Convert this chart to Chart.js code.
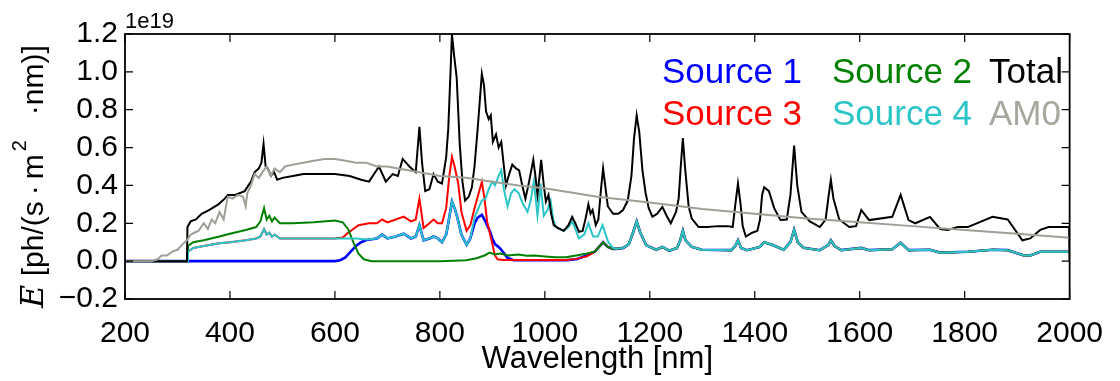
<!DOCTYPE html>
<html>
<head>
<meta charset="utf-8">
<script src="https://cdn.jsdelivr.net/npm/chart.js@4.4.0/dist/chart.umd.min.js"></script>
<style>
  body { margin: 0; background: #fff; }
  canvas { display: block; }
</style>
</head>
<body>
<canvas id="chart" width="1120" height="381"></canvas>
<script>
// values are in units of 1e19 ph/(s*m^2*nm)
const exponentLabel = '1e19';
const xTitle = 'Wavelength [nm]';

const amWl = [200, 250, 262, 270, 280, 290, 300, 310, 318, 325,
  332, 340, 350, 358, 365, 372, 380, 388, 393, 396,
  405, 415, 425, 430, 433, 440, 447, 455, 462, 470,
  478, 485, 495, 505, 520, 540, 560, 580, 600, 620,
  640, 660, 680, 700, 720, 740, 760, 780, 800, 850,
  900, 950, 1000, 1100, 1200, 1300, 1400, 1500, 1600, 1700,
  1800, 1900, 2000];
const amE = [0, 0, 0.01, 0.03, 0.03, 0.05, 0.06, 0.09, 0.11, 0.14,
  0.15, 0.16, 0.20, 0.17, 0.22, 0.20, 0.26, 0.22, 0.30, 0.34,
  0.33, 0.35, 0.34, 0.29, 0.36, 0.40, 0.46, 0.44, 0.47, 0.50,
  0.45, 0.49, 0.47, 0.50, 0.51, 0.52, 0.53, 0.54, 0.54, 0.53,
  0.52, 0.52, 0.50, 0.50, 0.49, 0.48, 0.47, 0.46, 0.45, 0.44,
  0.42, 0.40, 0.385, 0.34, 0.31, 0.275, 0.25, 0.225, 0.205, 0.185,
  0.165, 0.145, 0.123];

const totWl = [200, 318, 319, 325, 335, 346, 360, 378, 390, 396,
  410, 428, 440, 447, 455, 460, 464, 468, 472, 478,
  484, 490, 500, 520, 540, 566, 600, 628, 650, 665,
  684, 697, 710, 720, 729, 742, 754, 761, 766, 772,
  780, 788, 796, 804, 812, 816, 821, 823, 827, 832,
  838, 843, 848, 855, 861, 866, 872, 880, 884, 888,
  893, 897, 901, 907, 912, 917, 922, 926, 932, 938,
  945, 951, 957, 963, 970, 978, 982, 986, 990, 993,
  998, 1002, 1007, 1012, 1017, 1025, 1036, 1045, 1052, 1058,
  1065, 1072, 1078, 1083, 1087, 1091, 1097, 1102, 1107, 1111,
  1115, 1120, 1130, 1140, 1149, 1158, 1165, 1170, 1175, 1180,
  1186, 1192, 1198, 1205, 1214, 1224, 1232, 1240, 1250, 1255,
  1259, 1263, 1267, 1274, 1280, 1293, 1310, 1330, 1349, 1358,
  1363, 1368, 1373, 1377, 1383, 1395, 1405, 1410, 1414, 1418,
  1427, 1437, 1449, 1461, 1468, 1475, 1481, 1489, 1505, 1524,
  1535, 1541, 1545, 1550, 1561, 1580, 1593, 1603, 1618, 1662,
  1678, 1693, 1706, 1734, 1753, 1768, 1787, 1806, 1853, 1882,
  1910, 1925, 1944, 1960, 1999, 2000];
const totE = [0, 0, 0.18, 0.21, 0.22, 0.25, 0.27, 0.30, 0.33, 0.35,
  0.35, 0.37, 0.42, 0.47, 0.49, 0.52, 0.62, 0.50, 0.49, 0.45,
  0.47, 0.43, 0.44, 0.45, 0.46, 0.46, 0.46, 0.45, 0.43, 0.42,
  0.50, 0.42, 0.46, 0.45, 0.54, 0.50, 0.47, 0.71, 0.52, 0.37,
  0.38, 0.46, 0.42, 0.41, 0.55, 0.70, 1.05, 1.20, 1.09, 0.97,
  0.61, 0.42, 0.32, 0.34, 0.39, 0.50, 0.70, 0.99, 0.93, 0.79,
  0.75, 0.77, 0.63, 0.67, 0.60, 0.63, 0.50, 0.40, 0.46, 0.51,
  0.49, 0.48, 0.40, 0.33, 0.42, 0.535, 0.45, 0.35, 0.45, 0.535,
  0.40, 0.315, 0.35, 0.25, 0.19, 0.175, 0.16, 0.19, 0.234, 0.20,
  0.155, 0.16, 0.23, 0.30, 0.25, 0.27, 0.19, 0.22, 0.38, 0.49,
  0.40, 0.29, 0.25, 0.25, 0.27, 0.32, 0.45, 0.65, 0.77, 0.68,
  0.48, 0.36, 0.28, 0.234, 0.25, 0.287, 0.24, 0.20, 0.26, 0.33,
  0.50, 0.65, 0.50, 0.29, 0.225, 0.18, 0.18, 0.185, 0.185, 0.18,
  0.30, 0.41, 0.30, 0.185, 0.13, 0.15, 0.16, 0.22, 0.35, 0.39,
  0.37, 0.28, 0.217, 0.22, 0.35, 0.61, 0.40, 0.26, 0.21, 0.18,
  0.22, 0.35, 0.43, 0.33, 0.22, 0.18, 0.185, 0.27, 0.217, 0.234,
  0.35, 0.217, 0.20, 0.234, 0.17, 0.165, 0.18, 0.18, 0.234, 0.22,
  0.11, 0.12, 0.165, 0.18, 0.18, 0.0];

// common long-wavelength part shared by the four sources
const tailWl = [1136, 1150, 1160, 1168, 1175, 1182, 1193, 1212, 1224, 1237,
  1252, 1258, 1263, 1268, 1280, 1299, 1355, 1363, 1368, 1374,
  1385, 1410, 1418, 1434, 1455, 1468, 1475, 1482, 1493, 1524,
  1540, 1545, 1552, 1565, 1603, 1618, 1662, 1678, 1693, 1734,
  1753, 1806, 1853, 1882, 1913, 1925, 1944, 2000];
const tailE = [0.065, 0.07, 0.09, 0.15, 0.21, 0.15, 0.085, 0.06, 0.075, 0.055,
  0.07, 0.11, 0.16, 0.11, 0.075, 0.06, 0.058, 0.08, 0.11, 0.07,
  0.058, 0.075, 0.10, 0.085, 0.06, 0.10, 0.165, 0.10, 0.07, 0.058,
  0.085, 0.11, 0.08, 0.058, 0.07, 0.058, 0.063, 0.097, 0.058, 0.06,
  0.045, 0.05, 0.06, 0.058, 0.03, 0.03, 0.05, 0.05];

const s1Wl = [200, 600, 610, 620, 630, 640, 650, 660, 680, 690,
  700, 716, 731, 745, 754, 761, 769, 780, 788, 796,
  804, 812, 816, 823, 828, 832, 841, 851, 858, 866,
  872, 880, 885, 890, 895, 900, 905, 914, 920, 928,
  940, 1040, 1060, 1080, 1095, 1105, 1111, 1120, 1130];
const s1E = [0, 0, 0.005, 0.02, 0.05, 0.08, 0.10, 0.112, 0.12, 0.14,
  0.12, 0.13, 0.145, 0.12, 0.13, 0.19, 0.11, 0.12, 0.13, 0.12,
  0.10, 0.14, 0.20, 0.315, 0.28, 0.245, 0.14, 0.086, 0.12, 0.20,
  0.23, 0.245, 0.22, 0.19, 0.16, 0.12, 0.09, 0.07, 0.05, 0.02,
  0.005, 0.005, 0.01, 0.03, 0.05, 0.08, 0.10, 0.075, 0.065];

const s2Wl = [200, 319, 320, 330, 350, 380, 400, 430, 450, 458,
  465, 470, 475, 480, 485, 495, 520, 560, 600, 615,
  625, 635, 645, 655, 670, 800, 850, 870, 885, 895,
  905, 915, 930, 950, 965, 980, 1000, 1020, 1040, 1060,
  1080, 1095, 1105, 1111, 1120, 1130];
const s2E = [0, 0, 0.08, 0.10, 0.11, 0.13, 0.145, 0.165, 0.18, 0.21,
  0.28, 0.22, 0.24, 0.21, 0.23, 0.20, 0.20, 0.205, 0.215, 0.205,
  0.17, 0.10, 0.04, 0.01, 0.0, 0.0, 0.005, 0.015, 0.03, 0.045,
  0.035, 0.04, 0.03, 0.035, 0.028, 0.03, 0.025, 0.02, 0.02, 0.03,
  0.04, 0.05, 0.08, 0.10, 0.075, 0.065];

const s3Wl = [200, 319, 320, 330, 350, 380, 400, 430, 450, 458,
  465, 470, 475, 480, 485, 495, 520, 560, 600, 615,
  625, 635, 645, 655, 665, 680, 690, 700, 716, 731,
  745, 754, 761, 769, 780, 788, 796, 804, 812, 818,
  823, 828, 835, 841, 851, 858, 866, 874, 880, 885,
  890, 895, 900, 905, 910, 920, 1040, 1060, 1080, 1095,
  1105, 1111, 1120, 1130];
const s3E = [0, 0, 0.05, 0.07, 0.08, 0.095, 0.10, 0.11, 0.12, 0.13,
  0.17, 0.14, 0.15, 0.13, 0.14, 0.12, 0.12, 0.12, 0.12, 0.125,
  0.15, 0.17, 0.19, 0.195, 0.20, 0.20, 0.22, 0.205, 0.22, 0.235,
  0.21, 0.22, 0.33, 0.175, 0.20, 0.22, 0.20, 0.20, 0.28, 0.45,
  0.55, 0.50, 0.41, 0.26, 0.16, 0.19, 0.28, 0.36, 0.42, 0.33,
  0.21, 0.15, 0.09, 0.03, 0.01, 0.006, 0.006, 0.012, 0.025, 0.05,
  0.08, 0.10, 0.075, 0.065];

const s4Wl = [200, 319, 320, 330, 350, 380, 400, 430, 450, 458,
  465, 470, 475, 480, 485, 495, 520, 560, 600, 640,
  660, 680, 690, 700, 716, 731, 745, 754, 761, 769,
  780, 788, 796, 804, 812, 816, 823, 828, 832, 841,
  851, 858, 866, 875, 880, 887, 893, 900, 905, 912,
  917, 922, 929, 936, 942, 950, 957, 967, 973, 979,
  983, 986, 989, 992, 995, 998, 1005, 1011, 1016, 1021,
  1036, 1045, 1052, 1058, 1065, 1075, 1083, 1092, 1101, 1110,
  1116, 1121, 1130];
const s4E = [0, 0, 0.05, 0.07, 0.08, 0.095, 0.10, 0.11, 0.12, 0.13,
  0.17, 0.14, 0.15, 0.13, 0.14, 0.12, 0.12, 0.12, 0.12, 0.12,
  0.115, 0.12, 0.14, 0.12, 0.13, 0.145, 0.12, 0.13, 0.19, 0.11,
  0.12, 0.13, 0.12, 0.10, 0.14, 0.20, 0.315, 0.28, 0.245, 0.14,
  0.086, 0.12, 0.23, 0.29, 0.32, 0.33, 0.38, 0.42, 0.40, 0.45,
  0.48, 0.38, 0.29, 0.36, 0.38, 0.36, 0.31, 0.26, 0.32, 0.42,
  0.32, 0.24, 0.32, 0.41, 0.32, 0.24, 0.27, 0.32, 0.22, 0.18,
  0.16, 0.18, 0.21, 0.17, 0.12, 0.14, 0.20, 0.13, 0.13, 0.19,
  0.14, 0.10, 0.07];

// legend grid, read column by column
const legendColumns = [['Source 1', 'Source 3'], ['Source 2', 'Source 4'], ['Total', 'AM0']];

const SANS = '"Liberation Sans", Arial, sans-serif';

const pts = (wl, e) => wl.map((x, i) => ({ x: x, y: e[i] }));

const datasets = [
  { label: 'AM0', data: pts(amWl, amE), borderColor: '#9f9f97', textColor: '#a8a79d', borderWidth: 2, order: 0 },
  { label: 'Total', data: pts(totWl, totE), borderColor: '#000000', borderWidth: 2, order: 1 },
  { label: 'Source 4', data: pts(s4Wl.concat(tailWl), s4E.concat(tailE)), borderColor: '#2bc5c8', borderWidth: 2, order: 2 },
  { label: 'Source 2', data: pts(s2Wl.concat(tailWl), s2E.concat(tailE)), borderColor: '#008000', borderWidth: 2, order: 3 },
  { label: 'Source 3', data: pts(s3Wl.concat(tailWl), s3E.concat(tailE)), borderColor: '#ff0000', borderWidth: 2, order: 4 },
  { label: 'Source 1', data: pts(s1Wl.concat(tailWl), s1E.concat(tailE)), borderColor: '#0000ff', borderWidth: 2.6, order: 5 },
];
datasets.forEach(d => { d.pointRadius = 0; d.tension = 0; d.fill = false; });

const decorPlugin = {
  id: 'decor',
  afterDraw(chart) {
    const { ctx, chartArea: a, scales: { x, y } } = chart;
    ctx.save();

    // frame and inward ticks on all four sides
    ctx.strokeStyle = '#000';
    ctx.lineWidth = 1.8;
    ctx.strokeRect(a.left, a.top, a.right - a.left, a.bottom - a.top);
    ctx.lineWidth = 1.2;
    ctx.beginPath();
    x.ticks.forEach(t => {
      const px = x.getPixelForValue(t.value);
      ctx.moveTo(px, a.bottom); ctx.lineTo(px, a.bottom - 8);
      ctx.moveTo(px, a.top); ctx.lineTo(px, a.top + 8);
    });
    y.ticks.forEach(t => {
      const py = y.getPixelForValue(t.value);
      ctx.moveTo(a.left, py); ctx.lineTo(a.left + 8, py);
      ctx.moveTo(a.right, py); ctx.lineTo(a.right - 8, py);
    });
    ctx.stroke();

    // offset text
    ctx.fillStyle = '#000';
    ctx.textBaseline = 'alphabetic';
    ctx.textAlign = 'left';
    ctx.font = '22px ' + SANS;
    ctx.fillText(exponentLabel, a.left, a.top - 6);

    // y axis label, rotated
    ctx.save();
    ctx.translate(43, 308);
    ctx.rotate(-Math.PI / 2);
    let cx = 0;
    const piece = (txt, font, dy) => {
      ctx.font = font;
      ctx.fillText(txt, cx, dy || 0);
      cx += ctx.measureText(txt).width;
    };
    piece('E', 'italic 32px "DejaVu Serif", serif');
    piece(' [ph/(s\u2009\u00b7\u2009m', '30px ' + SANS);
    cx += 3;
    piece('2', '20px ' + SANS, -17);
    piece('   \u00b7nm)]', '30px ' + SANS);
    ctx.restore();

    // legend: coloured text only
    const colX = [662, 832, 989];
    const rowY = [83, 125];
    ctx.font = '35px ' + SANS;
    legendColumns.forEach((col, ci) => {
      col.forEach((name, ri) => {
        const ds = chart.data.datasets.find(d => d.label === name);
        ctx.fillStyle = ds.textColor || ds.borderColor;
        ctx.fillText(name, colX[ci], rowY[ri]);
      });
    });
    ctx.restore();
  }
};

new Chart(document.getElementById('chart'), {
  type: 'line',
  data: { datasets: datasets },
  options: {
    responsive: false,
    animation: false,
    devicePixelRatio: 1,
    layout: { padding: { left: 0, top: 34, right: 37, bottom: 0 } },
    plugins: { legend: { display: false }, tooltip: { enabled: false } },
    scales: {
      x: {
        type: 'linear',
        min: 200,
        max: 2000,
        grid: { display: false, drawTicks: false },
        border: { display: false },
        ticks: {
          stepSize: 200,
          autoSkip: false,
          maxRotation: 0,
          padding: 17,
          color: '#000',
          font: { family: SANS, size: 30 },
          callback: v => String(v)
        },
        title: {
          display: true,
          text: xTitle,
          color: '#000',
          font: { family: SANS, size: 31 },
          padding: { top: 0, bottom: 3 }
        },
        afterFit: s => { s.height = 82; }
      },
      y: {
        min: -0.2,
        max: 1.2,
        grid: { display: false, drawTicks: false },
        border: { display: false },
        ticks: {
          stepSize: 0.2,
          autoSkip: false,
          padding: 7,
          color: '#000',
          font: { family: SANS, size: 30 },
          callback: v => (Math.abs(v) < 1e-9 ? '0.0' : v.toFixed(1).replace('-', '\u2212'))
        },
        afterFit: s => { s.width = 125; }
      }
    }
  },
  plugins: [decorPlugin]
});
</script>
</body>
</html>
